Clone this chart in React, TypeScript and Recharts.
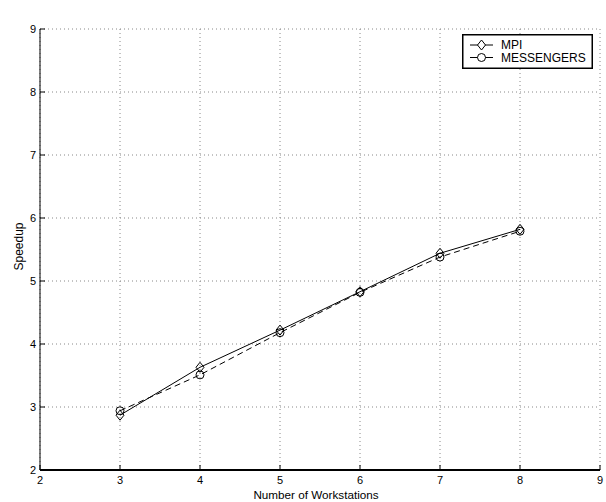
import { LineChart, Line, XAxis, YAxis, CartesianGrid, Label, Legend } from 'recharts'

const workstations = [3, 4, 5, 6, 7, 8]
const mpiSpeedup = [2.87, 3.63, 4.22, 4.83, 5.44, 5.82]
const messengersSpeedup = [2.94, 3.51, 4.18, 4.82, 5.38, 5.79]
const axisTicks = [2, 3, 4, 5, 6, 7, 8, 9]

const chartData = workstations.map((n, i) => ({
  n,
  mpi: mpiSpeedup[i],
  messengers: messengersSpeedup[i],
}))

const FONT = '"Liberation Sans", Arial, Helvetica, sans-serif'
const tickStyle = { fontSize: 11, fill: '#000', fontFamily: FONT }

const Diamond = (props: any) => {
  const { cx, cy } = props
  if (cx == null || cy == null) return null
  return (
    <path
      d={`M${cx},${cy - 5} L${cx + 4},${cy} L${cx},${cy + 5} L${cx - 4},${cy} Z`}
      fill="none"
      stroke="#000"
      strokeWidth={1}
    />
  )
}

const Circle = (props: any) => {
  const { cx, cy } = props
  if (cx == null || cy == null) return null
  return <circle cx={cx} cy={cy} r={4} fill="none" stroke="#000" strokeWidth={1} />
}

function LegendBox() {
  return (
    <svg width={131} height={35} style={{ display: 'block' }}>
      <rect x={0.75} y={0.75} width={129.5} height={33.5} fill="#fff" stroke="#000" strokeWidth={1.5} />
      <line x1={8} x2={31} y1={11} y2={11} stroke="#000" />
      <path d="M19.5,6 L23.5,11 L19.5,16 L15.5,11 Z" fill="#fff" stroke="#000" />
      <text x={39} y={15} fontSize={12} fontFamily={FONT} fill="#000">MPI</text>
      <line x1={8} x2={31} y1={23.5} y2={23.5} stroke="#000" />
      <circle cx={19.5} cy={23.5} r={4} fill="#fff" stroke="#000" />
      <text x={39} y={27.5} fontSize={12} fontFamily={FONT} fill="#000">MESSENGERS</text>
    </svg>
  )
}

export default function App() {
  return (
    <div style={{ position: 'absolute', left: 0, top: 0, width: 606, height: 502, background: '#fff' }}>
      <LineChart
        width={606}
        height={502}
        data={chartData}
        margin={{ top: 29, right: 6, bottom: 0, left: 0 }}
      >
        <CartesianGrid stroke="#888" strokeDasharray="1 3" />
        <XAxis
          dataKey="n"
          type="number"
          domain={[2, 9]}
          ticks={axisTicks}
          height={32}
          tickSize={-5}
          tickMargin={11}
          tick={tickStyle}
          axisLine={{ stroke: '#000', strokeWidth: 2 }}
          tickLine={{ stroke: '#000' }}
        >
          <Label
            content={({ viewBox }: any) => (
              <text
                x={viewBox.x + viewBox.width / 2 - 4}
                y={viewBox.y + viewBox.height - 3.5}
                textAnchor="middle"
                fontSize={11.7}
                fontFamily={FONT}
                fill="#000"
              >
                Number of Workstations
              </text>
            )}
          />
        </XAxis>
        <XAxis
          xAxisId="top"
          orientation="top"
          dataKey="n"
          type="number"
          domain={[2, 9]}
          ticks={axisTicks}
          height={0}
          tickSize={-5}
          tick={false}
          axisLine={{ stroke: '#000' }}
          tickLine={{ stroke: '#000' }}
        >
          <Label
            content={({ viewBox }: any) => (
              <text
                x={viewBox.x + viewBox.width / 2 - 20}
                y={viewBox.y - 11}
                textAnchor="middle"
                fontSize={11}
                fontFamily={FONT}
                fill="#000"
              >
                Speedup of Parallel Cholesky Factorization (5,000X5,000 matrix)
              </text>
            )}
          />
        </XAxis>
        <YAxis
          type="number"
          domain={[2, 9]}
          ticks={axisTicks}
          width={40}
          tickSize={-5}
          tickMargin={9}
          tick={tickStyle}
          axisLine={{ stroke: '#000' }}
          tickLine={{ stroke: '#000' }}
        >
          <Label
            content={({ viewBox }: any) => {
              const x = viewBox.x + 23
              const y = viewBox.y + viewBox.height / 2 - 3
              return (
                <text
                  x={x}
                  y={y}
                  transform={`rotate(-90 ${x} ${y})`}
                  textAnchor="middle"
                  fontSize={12}
                  fontFamily={FONT}
                  fill="#000"
                >
                  Speedup
                </text>
              )
            }}
          />
        </YAxis>
        <YAxis
          yAxisId="right"
          orientation="right"
          type="number"
          domain={[2, 9]}
          ticks={axisTicks}
          width={0}
          tickSize={-5}
          tick={false}
          axisLine={{ stroke: '#000' }}
          tickLine={{ stroke: '#000' }}
        />
        <Legend
          layout="vertical"
          align="center"
          verticalAlign="middle"
          wrapperStyle={{ top: 34, left: 462, width: 131, height: 35 }}
          content={() => <LegendBox />}
        />
        <Line
          dataKey="mpi"
          name="MPI"
          stroke="#000"
          strokeWidth={1}
          dot={<Diamond />}
          activeDot={false}
          isAnimationActive={false}
        />
        <Line
          dataKey="messengers"
          name="MESSENGERS"
          stroke="#000"
          strokeWidth={1}
          strokeDasharray="6 4"
          dot={<Circle />}
          activeDot={false}
          isAnimationActive={false}
        />
      </LineChart>
    </div>
  )
}
